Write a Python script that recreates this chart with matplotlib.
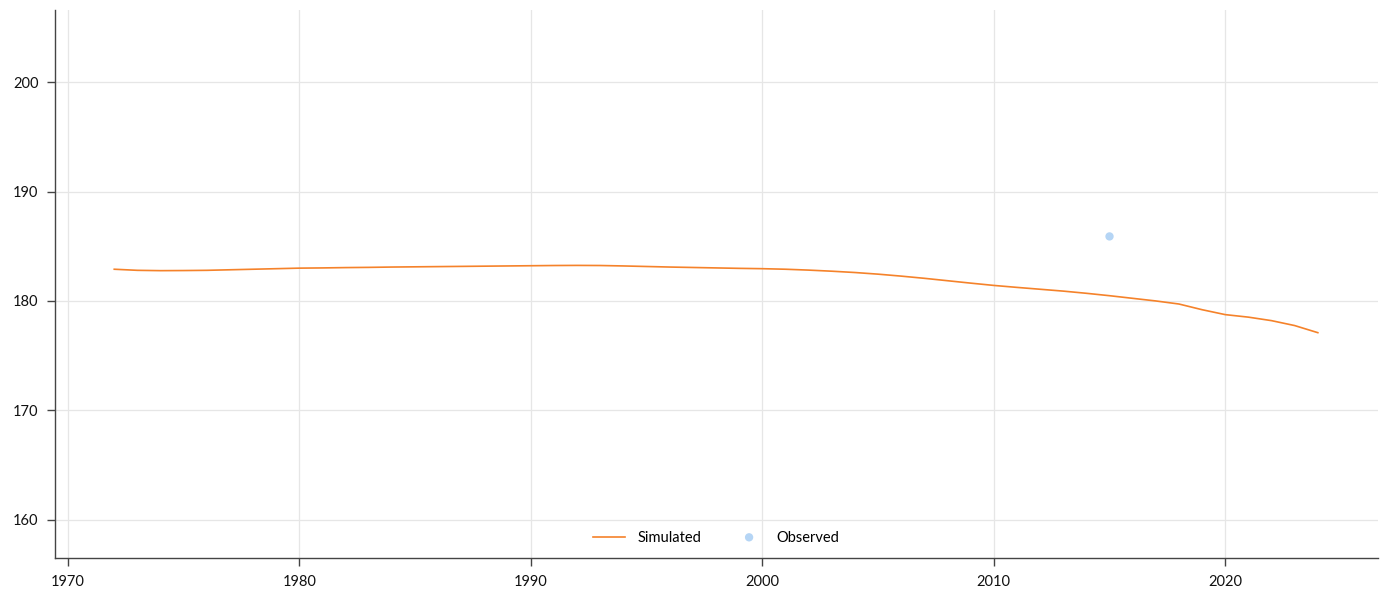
import matplotlib
matplotlib.use("Agg")
import matplotlib.pyplot as plt

plt.rcParams['font.family'] = ['Lato', 'DejaVu Sans']

# Simulated series (yearly)
sim_years = list(range(1972, 2025))
sim_values = [
    182.90, 182.80, 182.77, 182.78, 182.80, 182.85, 182.90, 182.95, 183.00, 183.02,
    183.05, 183.07, 183.10, 183.12, 183.14, 183.16, 183.18, 183.20, 183.22, 183.24,
    183.25, 183.24, 183.20, 183.15, 183.10, 183.06, 183.02, 182.98, 182.95, 182.90,
    182.82, 182.72, 182.60, 182.45, 182.27, 182.07, 181.85, 181.63, 181.42, 181.24,
    181.07, 180.90, 180.70, 180.48, 180.24, 180.00, 179.72, 179.20, 178.75, 178.52,
    178.20, 177.75, 177.10,
]

# Observed series
obs_years = [2015]
obs_values = [185.9]

x_ticks = [1970, 1980, 1990, 2000, 2010, 2020]
y_ticks = [160, 170, 180, 190, 200]

fig = plt.figure(figsize=(13.92, 5.97), dpi=100)
ax = fig.add_axes([55 / 1392, 39 / 597, 1323 / 1392, 548 / 597])

ax.plot(sim_years, sim_values, color='#f5822a', lw=1.2, label='Simulated', zorder=3)
ax.scatter(obs_years, obs_values, s=36, color='#b5d5f5', edgecolors='none',
           label='Observed', zorder=4)

ax.set_xlim(1969.44, 2026.6)
ax.set_ylim(156.5, 206.6)
ax.set_xticks(x_ticks)
ax.set_yticks(y_ticks)
ax.grid(True, color='#e6e6e6', lw=0.9)
ax.set_axisbelow(True)

for side in ('top', 'right'):
    ax.spines[side].set_visible(False)
for side in ('left', 'bottom'):
    ax.spines[side].set_color('#444444')
    ax.spines[side].set_linewidth(1.0)

ax.tick_params(axis='both', direction='out', length=6, width=1.0, color='#444444',
               labelsize=10.5, labelcolor='#111111', pad=6)

ax.legend(loc='lower center', ncol=2, frameon=False, fontsize=10.5,
          handlelength=2.2, handletextpad=0.8, columnspacing=2.2,
          scatteryoffsets=[0.5], bbox_to_anchor=(0.5, -0.001))

fig.savefig('out.png', dpi=100)
